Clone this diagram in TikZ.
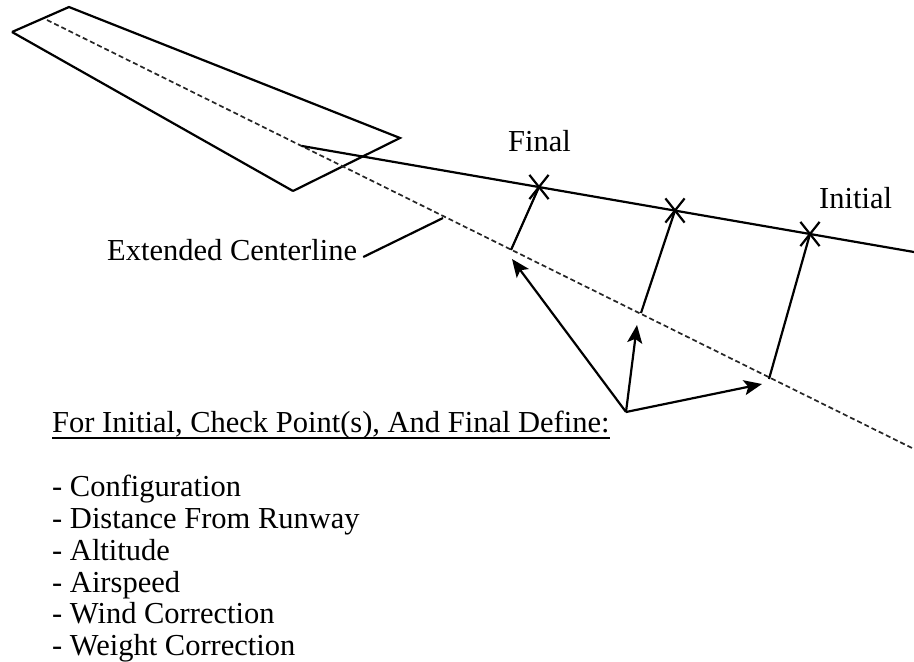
\documentclass[tikz,border=0pt]{standalone}
\usepackage{fontspec}
\setmainfont{Liberation Serif}
\usetikzlibrary{arrows.meta,shapes.misc,calc}
\begin{document}
\begin{tikzpicture}[x=1pt,y=-1pt,
  thick line/.style={line width=2.2pt,line join=miter,line cap=butt},
  centerline/.style={line width=1.7pt,black!85,dash pattern=on 5pt off 3pt},
  label text/.style={inner sep=0pt,anchor=base west,font=\fontsize{30.5}{32}\selectfont},
  xmark/.style={draw,cross out,line width=2.2pt,minimum width=17pt,minimum height=22pt,inner sep=0pt},
  pointer/.style={thick line,-{Stealth[length=18pt,width=15pt,inset=4pt]}}]
\useasboundingbox (0,0) rectangle (914,662);
% runway
\coordinate (r1) at (12,32);
\coordinate (r2) at (69,7);
\coordinate (r3) at (400,138);
\coordinate (r4) at (293,191);
\draw[thick line] (r1) -- (r2) -- (r3) -- (r4);
\draw[thick line] (r1) -- (r4);
% extended centerline
\coordinate (c1) at (47,20);
\coordinate (c2) at (914,449);
\draw[centerline] (c1) -- (c2);
% approach path
\coordinate (a1) at (302,146);
\coordinate (a2) at (914,252);
\draw[thick line] (a1) -- (a2);
\node[xmark] (x1) at (539,187) {};
\node[xmark] (x2) at (675,210.5) {};
\node[xmark] (x3) at (810,234) {};
% feet on centerline
\coordinate (f1) at (511,250);
\coordinate (f2) at (641,313);
\coordinate (f3) at (769,379);
\draw[thick line] (f1) -- (x1.center);
\draw[thick line] (f2) -- (x2.center);
\draw[thick line] (f3) -- (x3.center);
% labels
\node[label text] (final) at (508,151) {Final};
\node[label text] (initial) at (819,208) {Initial};
\node[label text] (ecl) at (107,260) {Extended Centerline};
\coordinate (lead) at (443,218);
\draw[thick line] ([xshift=6pt,yshift=3pt]ecl.base east) -- (lead);
% heading
\node[label text] (head) at (52,432) {For Initial, Check Point(s), And Final Define:};
\draw[line width=1.6pt] ([yshift=-6pt]head.base west) -- ([yshift=-6pt]head.base east);
% arrows
\coordinate (o) at (626,412);
\coordinate (t1) at (512,259);
\coordinate (t2) at (637,325);
\coordinate (t3) at (762,384);
\draw[pointer] (o) -- (t1);
\draw[pointer] (o) -- (t2);
\draw[pointer] (o) -- (t3);
% list
\node[label text] (l1) at (52,496) {- Configuration};
\node[label text] (l2) at (52,528) {- Distance From Runway};
\node[label text] (l3) at (52,560) {- Altitude};
\node[label text] (l4) at (52,592) {- Airspeed};
\node[label text] (l5) at (52,623) {- Wind Correction};
\node[label text] (l6) at (52,655) {- Weight Correction};
\end{tikzpicture}
\end{document}
